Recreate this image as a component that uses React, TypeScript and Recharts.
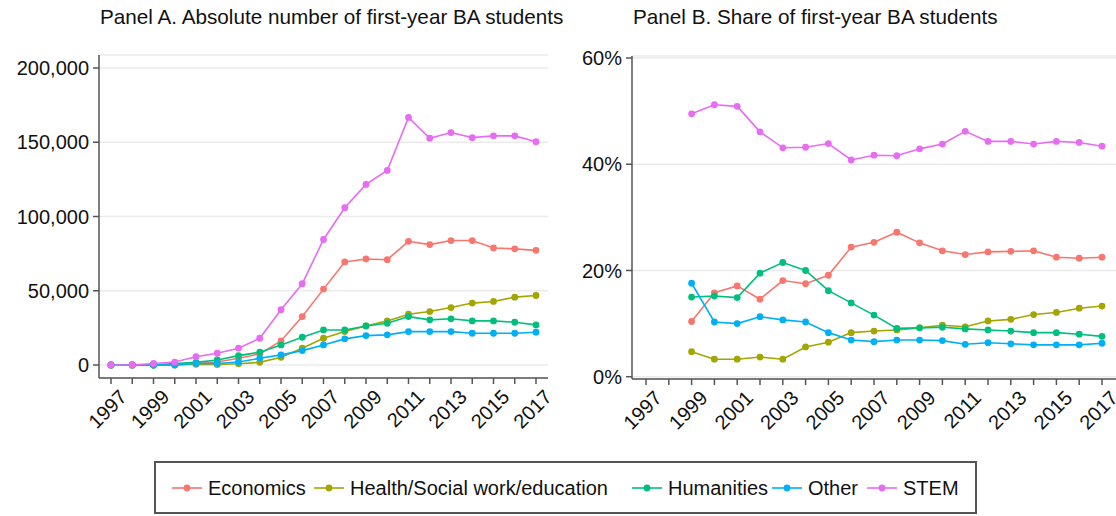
import React from 'react';
import { LineChart, Line, XAxis, YAxis, CartesianGrid } from 'recharts';

const years = [1997, 1998, 1999, 2000, 2001, 2002, 2003, 2004, 2005, 2006, 2007, 2008, 2009, 2010, 2011, 2012, 2013, 2014, 2015, 2016, 2017];
const yearTicks = years;

// Panel A: absolute numbers
const absEconomics = [0, 0, 0, 500, 1000, 2000, 4500, 7400, 16200, 32600, 51100, 69400, 71400, 70900, 83300, 81100, 83800, 83800, 78800, 78200, 77200];
const absHealth = [0, 0, 0, 0, 500, 300, 800, 1800, 5200, 11300, 18000, 22500, 26300, 29700, 34200, 36000, 38700, 41700, 42800, 45700, 46800];
const absHumanities = [0, 0, 0, 1000, 1800, 3400, 6300, 8600, 13500, 18700, 23600, 23600, 26300, 28100, 32600, 30400, 31100, 29700, 29700, 28800, 27000];
const absOther = [0, 0, 0, 0, 1000, 1000, 2000, 4500, 6800, 9700, 13500, 17600, 19800, 20300, 22500, 22500, 22500, 21400, 21400, 21400, 22100];
const absStem = [0, 0, 1000, 2000, 5600, 7900, 11300, 18000, 37200, 54700, 84500, 105900, 121600, 131000, 166700, 152700, 156500, 153100, 154300, 154300, 150400];
const absTicks = [0, 50000, 100000, 150000, 200000];

// Panel B: shares (%), no data for 1997-1998
const shareEconomics = [null, null, 10.4, 15.8, 17.1, 14.6, 18.1, 17.5, 19.1, 24.4, 25.3, 27.2, 25.2, 23.7, 23.0, 23.5, 23.6, 23.7, 22.5, 22.3, 22.5];
const shareHealth = [null, null, 4.7, 3.3, 3.3, 3.7, 3.3, 5.6, 6.5, 8.3, 8.6, 8.8, 9.2, 9.7, 9.4, 10.5, 10.8, 11.7, 12.1, 12.9, 13.3];
const shareHumanities = [null, null, 15.0, 15.2, 14.9, 19.5, 21.5, 20.0, 16.2, 13.9, 11.6, 9.1, 9.2, 9.3, 9.0, 8.8, 8.6, 8.3, 8.3, 8.0, 7.6];
const shareOther = [null, null, 17.6, 10.3, 10.0, 11.3, 10.7, 10.3, 8.3, 6.9, 6.6, 6.9, 6.9, 6.8, 6.1, 6.4, 6.2, 6.0, 6.0, 6.0, 6.3];
const shareStem = [null, null, 49.5, 51.2, 50.9, 46.1, 43.1, 43.2, 43.9, 40.8, 41.7, 41.6, 42.9, 43.8, 46.2, 44.3, 44.3, 43.8, 44.3, 44.1, 43.4];
const shareTicks = [0, 20, 40, 60];

const seriesNames = ['Economics', 'Health/Social work/education', 'Humanities', 'Other', 'STEM'];
const seriesColors = ['#F8766D', '#A3A500', '#00BF7D', '#00B0F6', '#E76BF3'];

const absData = years.map((year, i) => ({
  year,
  Economics: absEconomics[i],
  'Health/Social work/education': absHealth[i],
  Humanities: absHumanities[i],
  Other: absOther[i],
  STEM: absStem[i],
}));

const shareData = years.map((year, i) => ({
  year,
  Economics: shareEconomics[i],
  'Health/Social work/education': shareHealth[i],
  Humanities: shareHumanities[i],
  Other: shareOther[i],
  STEM: shareStem[i],
}));

const FONT = '"Liberation Sans", Arial, sans-serif';
const AXIS = '#555555';

function YearTick(props: any) {
  const { x, y, payload } = props;
  if (payload.value % 2 === 0) return <g />;
  return (
    <g transform={`translate(${x + 7},${y + 2})`}>
      <text
        textAnchor="end"
        transform="rotate(-45)"
        dy="0.72em"
        fontSize={20}
        fontFamily={FONT}
        fill="#111"
      >
        {payload.value}
      </text>
    </g>
  );
}

function Panel({ data, yTicks, yDomain, xDomain, fmt, yWidth, margin }: any) {
  return (
    <LineChart width={560} height={460} data={data} margin={margin}>
      <CartesianGrid vertical={false} stroke="#ebebeb" strokeWidth={1.5} />
      <XAxis
        dataKey="year"
        type="number"
        domain={xDomain}
        allowDataOverflow
        ticks={yearTicks}
        interval={0}
        height={80}
        tickSize={6}
        tick={<YearTick />}
        axisLine={{ stroke: AXIS, strokeWidth: 1.5 }}
        tickLine={{ stroke: AXIS, strokeWidth: 1.5 }}
      />
      <YAxis
        type="number"
        domain={yDomain}
        allowDataOverflow
        ticks={yTicks}
        interval={0}
        width={yWidth}
        tickSize={6}
        tickMargin={4}
        tickFormatter={fmt}
        tick={{ fontSize: 20, fontFamily: FONT, fill: '#111' }}
        axisLine={{ stroke: AXIS, strokeWidth: 1.5 }}
        tickLine={{ stroke: AXIS, strokeWidth: 1.5 }}
      />
      {seriesNames.map((name, i) => (
        <Line
          key={name}
          dataKey={name}
          stroke={seriesColors[i]}
          strokeWidth={1.6}
          dot={{ r: 3.4, fill: seriesColors[i], stroke: 'none' }}
          activeDot={false}
          isAnimationActive={false}
        />
      ))}
    </LineChart>
  );
}

function LegendKey({ color }: { color: string }) {
  return (
    <svg width={30} height={12} style={{ marginRight: 6 }}>
      <line x1={0} y1={6} x2={30} y2={6} stroke={color} strokeWidth={1.6} />
      <circle cx={15} cy={6} r={3.4} fill={color} />
    </svg>
  );
}

const legendTextLefts = [208, 350, 668, 808, 903];

export default function App() {
  return (
    <div style={{ position: 'absolute', left: 0, top: 0, width: 1116, height: 516, background: '#fff', overflow: 'hidden', fontFamily: FONT }}>
      <div style={{ position: 'absolute', left: 100, top: 5, fontSize: 20.7, color: '#111', whiteSpace: 'nowrap' }}>
        Panel A. Absolute number of first-year BA students
      </div>
      <div style={{ position: 'absolute', left: 633, top: 5, fontSize: 20.7, color: '#111', whiteSpace: 'nowrap' }}>
        Panel B. Share of first-year BA students
      </div>
      <div style={{ position: 'absolute', left: 0, top: 0 }}>
        <Panel
          data={absData}
          yTicks={absTicks}
          yDomain={[-8750, 208750]}
          xDomain={[1996.435, 2017.565]}
          fmt={(v: number) => v.toLocaleString('en-US')}
          yWidth={90}
          margin={{ top: 55, right: 12, bottom: 2, left: 9 }}
        />
      </div>
      <div style={{ position: 'absolute', left: 556, top: 0 }}>
        <Panel
          data={shareData}
          yTicks={shareTicks}
          yDomain={[-0.43, 60.38]}
          xDomain={[1996.386, 2017.614]}
          fmt={(v: number) => `${v}%`}
          yWidth={70}
          margin={{ top: 56, right: 0, bottom: 1, left: 6 }}
        />
      </div>
      <div
        style={{
          position: 'absolute',
          left: 154,
          top: 461,
          width: 823,
          height: 53,
          border: '2px solid #555',
          boxSizing: 'border-box',
        }}
      />
      {seriesNames.map((name, i) => (
        <div
          key={name}
          style={{
            position: 'absolute',
            left: legendTextLefts[i] - 36,
            top: 476,
            display: 'flex',
            alignItems: 'center',
            fontSize: 20,
            color: '#111',
            whiteSpace: 'nowrap',
            lineHeight: '24px',
          }}
        >
          <LegendKey color={seriesColors[i]} />
          {name}
        </div>
      ))}
    </div>
  );
}
